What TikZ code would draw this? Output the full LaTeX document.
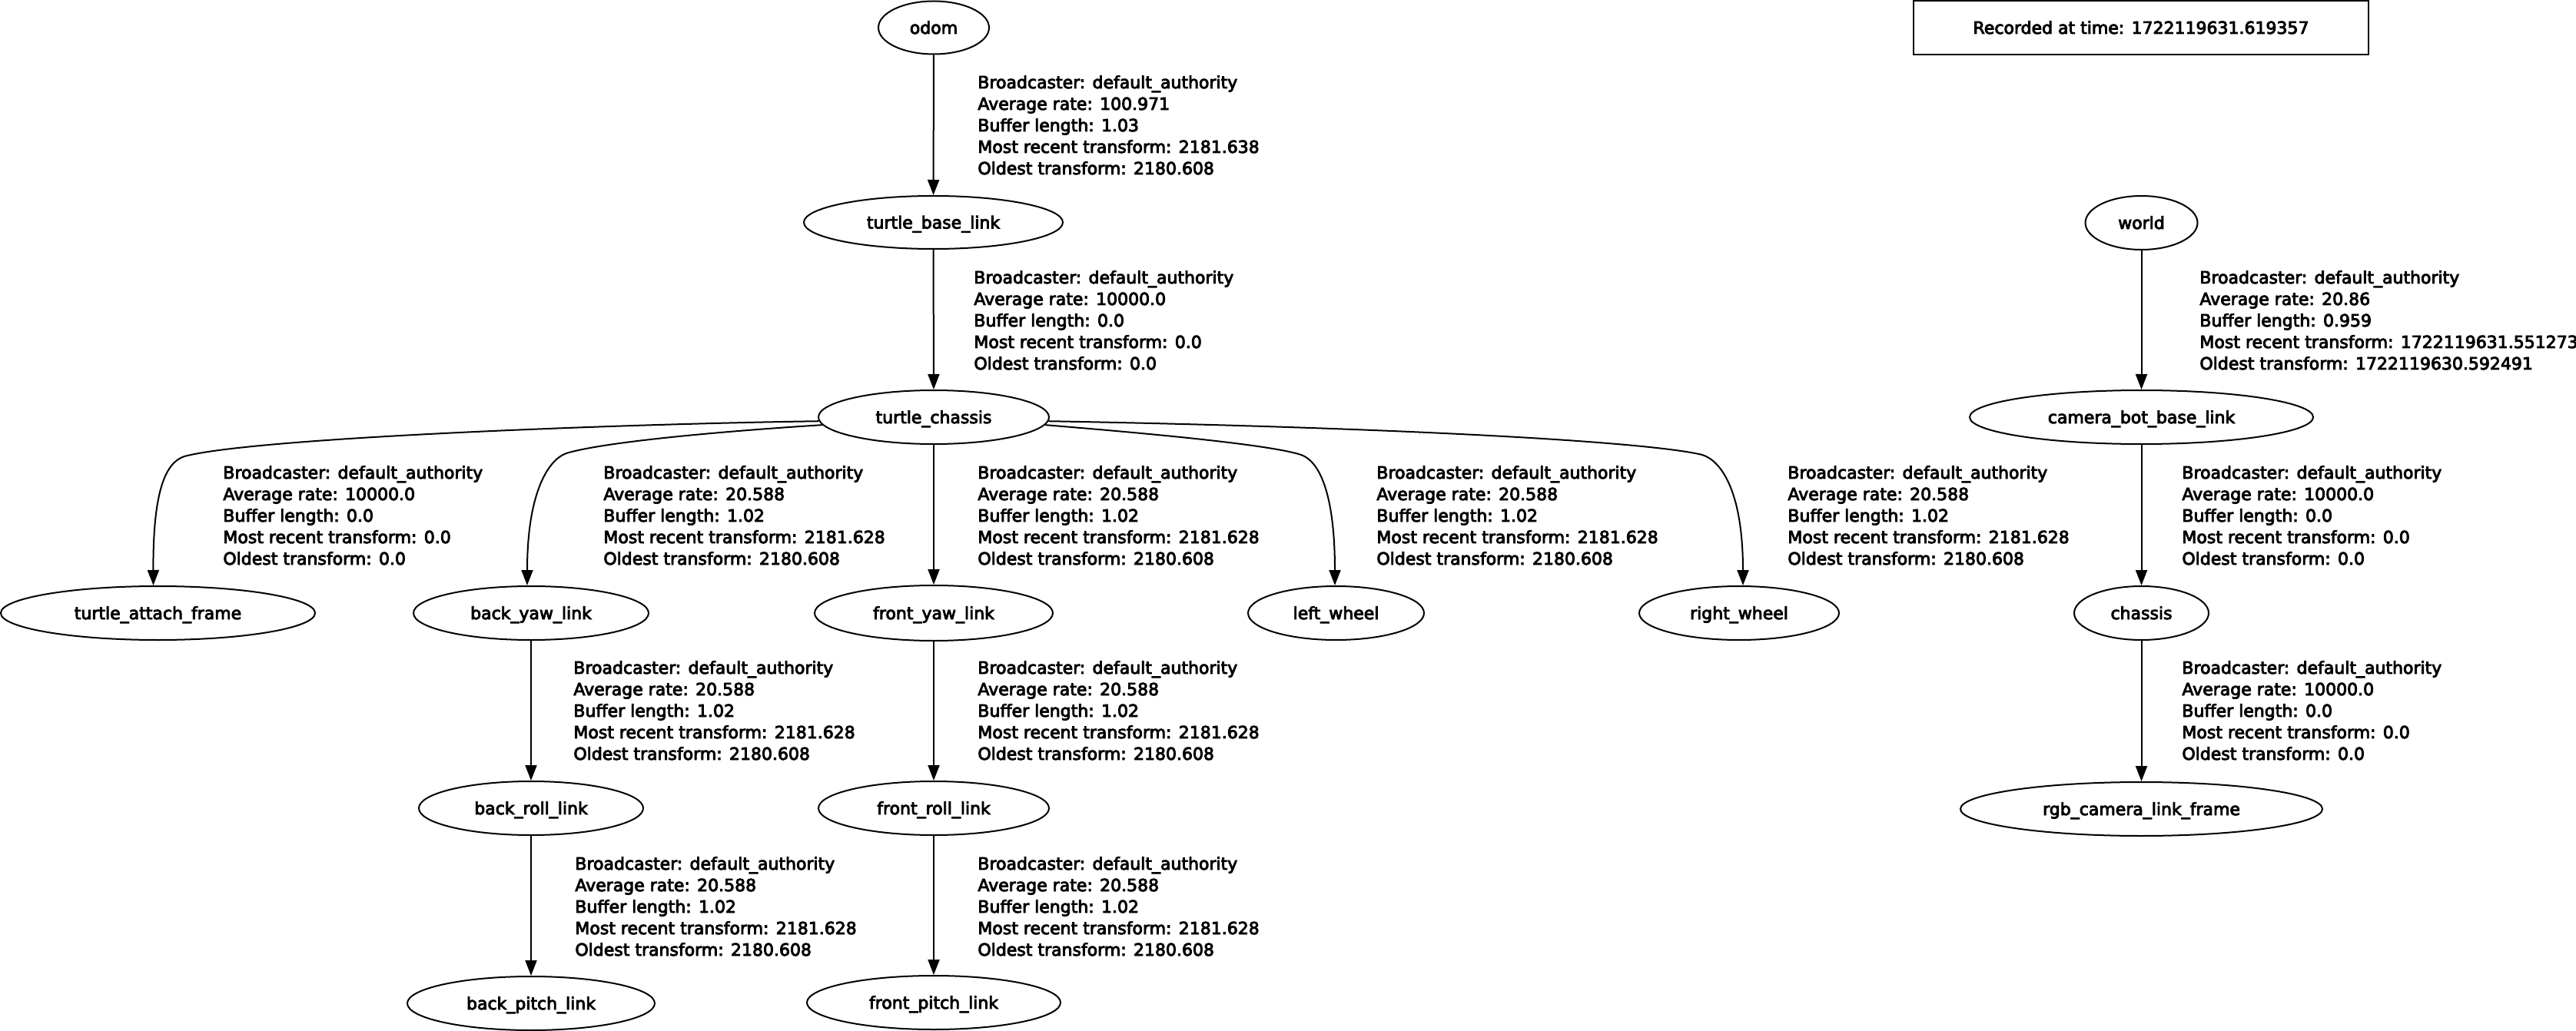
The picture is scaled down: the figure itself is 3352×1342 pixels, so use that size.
\documentclass[tikz,border=0pt]{standalone}
\usepackage{fontspec}
\setmainfont{DejaVu Sans}[FakeBold=4]
\usetikzlibrary{arrows.meta,shapes.geometric}
\newcommand\myfont{\fontsize{11pt}{14pt}\selectfont}
\newcommand\tfinfo[4]{\begin{tabular}[t]{@{}l@{}}Broadcaster: default\_authority\\Average rate: #1\\Buffer length: #2\\Most recent transform: #3\\Oldest transform: #4\end{tabular}}
\tikzset{
  fr/.style={ellipse, draw, line width=1pt, inner sep=0pt, font=\myfont, text height=8pt, text depth=0pt},
  lbl/.style={anchor=base west, inner sep=0pt, font=\myfont},
  tf/.style={line width=1pt, -{Triangle[length=10pt,width=7.5pt]}},
  recbox/.style={draw, line width=1pt, inner sep=0pt, minimum width=296pt, minimum height=35pt, font=\myfont, text height=8pt, text depth=0pt}
}
\begin{document}
\begin{tikzpicture}[x=0.5pt,y=-0.5pt]
\useasboundingbox (0,0) rectangle (3352,1342);
% frames
\node[fr, minimum width=72pt, minimum height=34.5pt] (odom) at (1215,36) {odom};
\node[fr, minimum width=168.5pt, minimum height=34.5pt] (tbl) at (1214.5,289.5) {turtle\_base\_link};
\node[fr, minimum width=150pt, minimum height=35pt] (tc) at (1215,543) {turtle\_chassis};
\node[fr, minimum width=204.5pt, minimum height=35pt] (taf) at (205.5,798) {turtle\_attach\_frame};
\node[fr, minimum width=153pt, minimum height=35pt] (byl) at (691,798) {back\_yaw\_link};
\node[fr, minimum width=155pt, minimum height=36pt] (fyl) at (1215,798) {front\_yaw\_link};
\node[fr, minimum width=114.5pt, minimum height=35pt] (lw) at (1738.5,798) {left\_wheel};
\node[fr, minimum width=130pt, minimum height=35pt] (rw) at (2263,798) {right\_wheel};
\node[fr, minimum width=146pt, minimum height=35pt] (brl) at (691,1052) {back\_roll\_link};
\node[fr, minimum width=150pt, minimum height=35pt] (frl) at (1215,1052) {front\_roll\_link};
\node[fr, minimum width=161pt, minimum height=35pt] (bpl) at (691,1306) {back\_pitch\_link};
\node[fr, minimum width=165pt, minimum height=35pt] (fpl) at (1215,1305) {front\_pitch\_link};
\node[fr, minimum width=73pt, minimum height=35pt] (world) at (2786.5,290) {world};
\node[fr, minimum width=223.5pt, minimum height=35pt] (cbb) at (2786.5,543) {camera\_bot\_base\_link};
\node[fr, minimum width=87.5pt, minimum height=35pt] (chassis) at (2786.5,798) {chassis};
\node[fr, minimum width=235.5pt, minimum height=35pt] (rgb) at (2786.5,1053) {rgb\_camera\_link\_frame};
\node[recbox] (rec) at (2786,36) {Recorded at time: 1722119631.619357};
% straight edges
\draw[tf] (odom) -- (tbl);
\draw[tf] (tbl) -- (tc);
\draw[tf] (tc) -- (fyl);
\draw[tf] (byl) -- (brl);
\draw[tf] (fyl) -- (frl);
\draw[tf] (brl) -- (bpl);
\draw[tf] (frl) -- (fpl);
\draw[tf] (world) -- (cbb);
\draw[tf] (cbb) -- (chassis);
\draw[tf] (chassis) -- (rgb);
% curved edges
\draw[tf] (tc.182) .. controls (800,552) and (330,570) .. (240,594)
  .. controls (215,602) and (199,640) .. ([xshift=-3pt]taf.north);
\draw[tf] (tc.184) .. controls (960,560) and (790,574) .. (737,590)
  .. controls (714,598) and (686,640) .. ([xshift=-2.5pt]byl.north);
\draw[tf] (tc.356) .. controls (1480,563) and (1650,578) .. (1693,592)
  .. controls (1716,600) and (1737,640) .. ([xshift=-0.75pt]lw.north);
\draw[tf] (tc.358) .. controls (1800,556) and (2140,574) .. (2215,592)
  .. controls (2240,600) and (2268,640) .. ([xshift=2.5pt]rw.north);
% edge labels
\node[lbl] (e1) at (1272,115) {\tfinfo{100.971}{1.03}{2181.638}{2180.608}};
\node[lbl] (e2) at (1267,369) {\tfinfo{10000.0}{0.0}{0.0}{0.0}};
\node[lbl] (e3) at (290,623) {\tfinfo{10000.0}{0.0}{0.0}{0.0}};
\node[lbl] (e4) at (785,623) {\tfinfo{20.588}{1.02}{2181.628}{2180.608}};
\node[lbl] (e5) at (1272,623) {\tfinfo{20.588}{1.02}{2181.628}{2180.608}};
\node[lbl] (e6) at (1791,623) {\tfinfo{20.588}{1.02}{2181.628}{2180.608}};
\node[lbl] (e7) at (2326,623) {\tfinfo{20.588}{1.02}{2181.628}{2180.608}};
\node[lbl] (e8) at (746,877) {\tfinfo{20.588}{1.02}{2181.628}{2180.608}};
\node[lbl] (e9) at (1272,877) {\tfinfo{20.588}{1.02}{2181.628}{2180.608}};
\node[lbl] (e10) at (748,1132) {\tfinfo{20.588}{1.02}{2181.628}{2180.608}};
\node[lbl] (e11) at (1272,1132) {\tfinfo{20.588}{1.02}{2181.628}{2180.608}};
\node[lbl] (e12) at (2862,369) {\tfinfo{20.86}{0.959}{1722119631.551273}{1722119630.592491}};
\node[lbl] (e13) at (2839,623) {\tfinfo{10000.0}{0.0}{0.0}{0.0}};
\node[lbl] (e14) at (2839,877) {\tfinfo{10000.0}{0.0}{0.0}{0.0}};
\end{tikzpicture}
\end{document}
